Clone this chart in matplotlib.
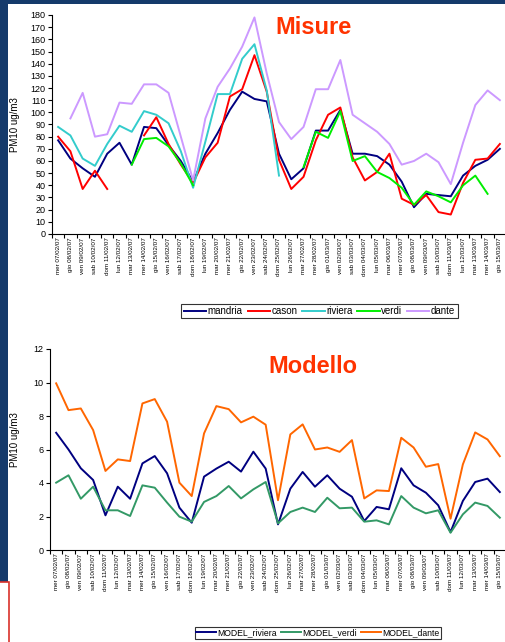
import matplotlib
matplotlib.use("Agg")
import matplotlib.pyplot as plt
import numpy as np

plt.rcParams['font.family'] = ['Liberation Sans', 'DejaVu Sans']

# giorni 07/02/07 - 15/03/07
days = ["mer 07/02/07", "gio 08/02/07", "ven 09/02/07", "sab 10/02/07", "dom 11/02/07",
        "lun 12/02/07", "mar 13/02/07", "mer 14/02/07", "gio 15/02/07", "ven 16/02/07",
        "sab 17/02/07", "dom 18/02/07", "lun 19/02/07", "mar 20/02/07", "mer 21/02/07",
        "gio 22/02/07", "ven 23/02/07", "sab 24/02/07", "dom 25/02/07", "lun 26/02/07",
        "mar 27/02/07", "mer 28/02/07", "gio 01/03/07", "ven 02/03/07", "sab 03/03/07",
        "dom 04/03/07", "lun 05/03/07", "mar 06/03/07", "mer 07/03/07", "gio 08/03/07",
        "ven 09/03/07", "sab 10/03/07", "dom 11/03/07", "lun 12/03/07", "mar 13/03/07",
        "mer 14/03/07", "gio 15/03/07"]

# misure PM10 (ug/m3), None = dato mancante
mandria = [77, 62, 54, 47, 66, 75, 57, 88, 87, 73, 60, 43, 66, 83, 102, 117, 111, 109,
           66, 45, 54, 85, 85, 102, 66, 66, 64, 57, 43, 22, 33, 32, 31, 48, 56, 61, 70]
cason = [80, 68, 37, 52, 37, None, None, 81, 96, 74, 57, 42, 63, 75, 113, 119, 147, 117,
         61, 37, 47, 77, 98, 104, 63, 44, 51, 66, 29, 24, 32, 18, 16, 42, 61, 62, 74]
riviera = [88, 81, 62, 56, 74, 89, 84, 101, 98, 91, 68, 38, 76, 115, 115, 144, 156, 118,
           48, None, None, None, None, None, None, None, None, None, None, None, None,
           None, None, None, None, None, None]
verdi = [None, None, None, None, None, None, 57, 78, 79, 72, 58, 40, None, None, None,
         None, None, None, None, None, 55, 84, 79, 101, 60, 64, 51, 46, 38, 24, 35, 31,
         26, 40, 48, 33, None]
dante = [None, 95, 116, 80, 82, 108, 107, 123, 123, 116, 80, 44, 95, 121, 136, 154, 178,
         132, 92, 78, 88, 119, 119, 143, 98, 91, 84, 74, 57, 60, 66, 59, 41, 75, 106, 118, 110]

# modello PM10 (ug/m3)
model_riviera = [7.0, 6.0, 4.88, 4.18, 2.07, 3.78, 3.06, 5.17, 5.61, 4.58, 2.53, 1.63,
                 4.38, 4.86, 5.27, 4.68, 5.87, 4.86, 1.53, 3.66, 4.66, 3.78, 4.46, 3.66,
                 3.18, 1.73, 2.57, 2.43, 4.88, 3.86, 3.42, 2.67, 1.07, 2.93, 4.06, 4.26, 3.46]
model_verdi = [4.02, 4.46, 3.06, 3.78, 2.37, 2.37, 2.03, 3.86, 3.72, 2.83, 1.99, 1.69,
               2.87, 3.22, 3.82, 3.08, 3.62, 4.06, 1.59, 2.27, 2.53, 2.27, 3.12, 2.49,
               2.53, 1.69, 1.77, 1.53, 3.22, 2.53, 2.19, 2.37, 1.03, 2.13, 2.83, 2.63, 1.93]
model_dante = [9.95, 8.35, 8.45, 7.16, 4.72, 5.41, 5.31, 8.75, 9.01, 7.66, 4.02, 3.22,
               6.96, 8.59, 8.41, 7.62, 7.96, 7.48, 2.97, 6.9, 7.5, 6.0, 6.12, 5.86, 6.56,
               3.08, 3.56, 3.52, 6.7, 6.12, 4.97, 5.13, 1.87, 5.11, 7.02, 6.6, 5.6]

W, H = 506, 642
fig = plt.figure(figsize=(W / 100, H / 100), dpi=100)

# cornice blu della slide
navy = '#153a6b'
fig.patches.append(plt.Rectangle((0, 1 - 582 / H), 8 / W, 582 / H, transform=fig.transFigure,
                                 facecolor=navy, edgecolor='none', zorder=0))
fig.patches.append(plt.Rectangle((0, 1 - 4 / H), 1, 4 / H, transform=fig.transFigure,
                                 facecolor=navy, edgecolor='none', zorder=0))
fig.patches.append(plt.Rectangle((-0.01, -0.01), 9 / W + 0.01, (H - 582) / H + 0.01,
                                 transform=fig.transFigure, facecolor='white',
                                 edgecolor='#d9312a', linewidth=1.2, zorder=0))

x = np.arange(len(days))


def setup(ax, ymax, ystep, title, title_y):
    ax.set_xlim(-0.5, len(days) - 0.5)
    ax.set_ylim(0, ymax)
    ax.set_yticks(np.arange(0, ymax + 1, ystep))
    ax.spines['top'].set_visible(False)
    ax.spines['right'].set_visible(False)
    ax.tick_params(axis='y', labelsize=6.5, length=3, width=0.8, pad=1.5)
    ax.set_xticks(x, days, rotation=90, fontsize=4.5)
    ax.tick_params(axis='x', which='major', length=0, pad=2.5)
    ax.set_xticks(np.arange(-0.5, len(days), 1), minor=True)
    ax.tick_params(axis='x', which='minor', length=3, width=0.8)
    ax.set_ylabel("PM10 ug/m3", fontsize=7)
    ax.text(0.577, title_y, title, transform=ax.transAxes, ha='center', va='center',
            fontsize=17, fontweight='bold', color='#ff3300')


# misure
ax1 = fig.add_axes([52 / W, 1 - 234 / H, 1 - 52 / W, 219 / H])
series = [(mandria, 'mandria', '#000080'), (cason, 'cason', '#ff0000'),
          (riviera, 'riviera', '#33cccc'), (verdi, 'verdi', '#00ee00'),
          (dante, 'dante', '#cc99ff')]
for vals, name, col in series:
    ax1.plot(x, np.array(vals, dtype=float), color=col, lw=1.4, label=name)
setup(ax1, 180, 10, "Misure", 0.945)
ax1.yaxis.set_label_coords(-0.07, 0.5)
ax1.legend(loc='center', bbox_to_anchor=(319.5 / W, 1 - 311 / H), bbox_transform=fig.transFigure,
           ncol=5, fontsize=7, frameon=True, fancybox=False, edgecolor='black',
           handlelength=2.3, handletextpad=0.15, columnspacing=0.5, borderpad=0.25)

# modello
ax2 = fig.add_axes([50 / W, 1 - 550 / H, 1 - 50 / W, 201 / H])
mseries = [(model_riviera, 'MODEL_riviera', '#000080'),
           (model_verdi, 'MODEL_verdi', '#339966'),
           (model_dante, 'MODEL_dante', '#ff6600')]
for vals, name, col in mseries:
    ax2.plot(x, vals, color=col, lw=1.4, label=name)
setup(ax2, 12, 2, "Modello", 0.915)
ax2.yaxis.set_label_coords(-0.066, 0.55)
ax2.legend(loc='center', bbox_to_anchor=(318 / W, 1 - 633 / H), bbox_transform=fig.transFigure,
           ncol=3, fontsize=6.2, frameon=True, fancybox=False, edgecolor='black',
           handlelength=2.3, handletextpad=0.15, columnspacing=0.5, borderpad=0.2)

for ax in (ax1, ax2):
    ax.get_legend().get_frame().set_linewidth(0.8)

fig.savefig("out.png", dpi=100)
